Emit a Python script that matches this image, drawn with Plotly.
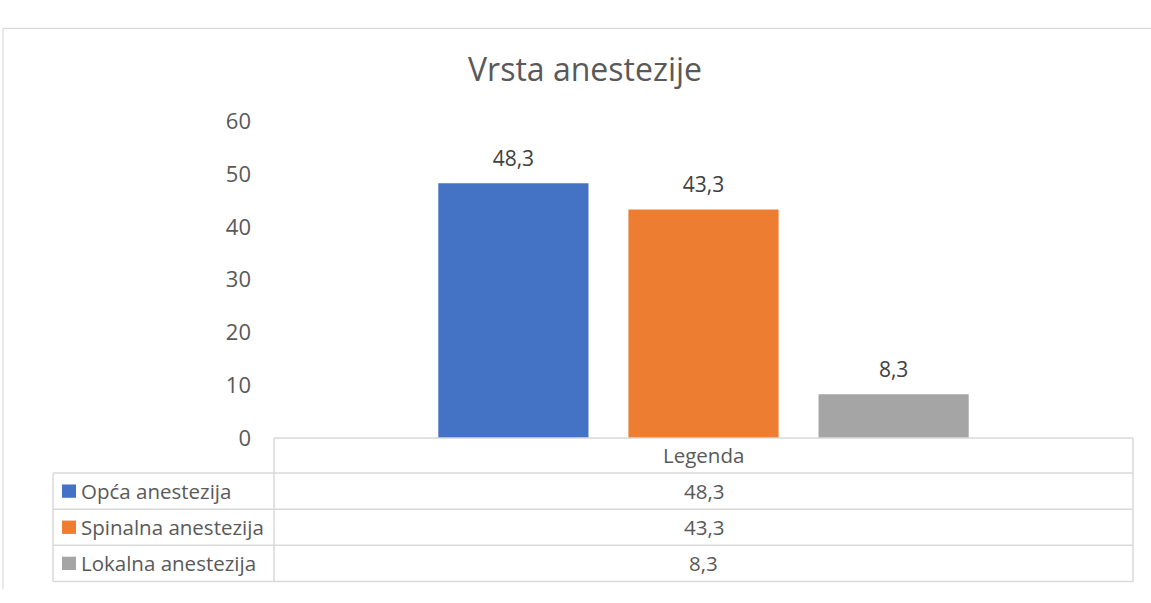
import plotly.graph_objects as go

title = "Vrsta anestezije"
category = ["Legenda"]
series_names = ["Opća anestezija", "Spinalna anestezija", "Lokalna anestezija"]
series_values = [48.3, 43.3, 8.3]
series_colors = ["#4472C4", "#ED7D31", "#A5A5A5"]
y_ticks = [0, 10, 20, 30, 40, 50, 60]

W, H = 1151, 603
def px(x): return x / W
def py(y): return 1 - y / H

BARGAP = 0.336
fig = go.Figure()
for name, val, col in zip(series_names, series_values, series_colors):
    fig.add_trace(go.Bar(
        x=category, y=[val], name=name, marker=dict(color=col, line=dict(width=0)),
        hoverinfo="name+y",
    ))
# data labels, grouped the same way as the bars
for name, val in zip(series_names, series_values):
    fig.add_trace(go.Scatter(
        x=category, y=[val], name=name, mode="markers+text",
        marker=dict(size=18, opacity=0), text=[f"{val:.1f}".replace(".", ",")],
        textposition="top center", cliponaxis=False, hoverinfo="skip",
        textfont=dict(family="Open Sans", size=21, color="#404040"),
    ))

grid = "#D9D9D9"
shapes = []
def line(x0, y0, x1, y1, w=1.5):
    shapes.append(dict(type="line", xref="paper", yref="paper",
                       x0=px(x0), y0=py(y0), x1=px(x1), y1=py(y1),
                       line=dict(color=grid, width=w)))

# outer chart border
line(3, 13, W, 13, 1.2)
line(3, 13, 3, H, 1.2)

# data table
L, M, R = 53, 274, 1133
rows = [444, 481, 519, 557, 595]
line(M, rows[0], R, rows[0])
for y in rows[1:]:
    line(L, y, R, y)
line(M, rows[0], M, rows[-1])
line(R, rows[0], R, rows[-1])
line(L, rows[1], L, rows[-1])

txt_font = dict(family="Open Sans", size=20.5, color="#595959")
annotations = []
annotations.append(dict(text=category[0], x=px((M + R) / 2), y=py((rows[0] + rows[1]) / 2),
                        xref="paper", yref="paper", showarrow=False,
                        xanchor="center", yanchor="middle", font=txt_font))
for i, (name, val, col) in enumerate(zip(series_names, series_values, series_colors)):
    yc = (rows[i + 1] + rows[i + 2]) / 2
    annotations.append(dict(text=f"{val:.1f}".replace(".", ","), x=px((M + R) / 2), y=py(yc),
                            xref="paper", yref="paper", showarrow=False,
                            xanchor="center", yanchor="middle", font=txt_font))
    annotations.append(dict(text=name, x=px(79), y=py(yc), xanchor="left", yanchor="middle",
                            xref="paper", yref="paper", showarrow=False, font=txt_font))
    shapes.append(dict(type="rect", xref="paper", yref="paper",
                       x0=px(62), x1=px(76), y0=py(yc + 7), y1=py(yc - 7),
                       fillcolor=col, line=dict(width=0)))

fig.update_layout(
    width=W, height=H, autosize=False,
    margin=dict(l=0, r=0, t=0, b=0, pad=0),
    paper_bgcolor="white", plot_bgcolor="white",
    separators=",.",
    title=dict(text=title, x=px(585), xanchor="center", xref="paper",
               y=py(57), yanchor="middle", yref="paper",
               font=dict(family="Open Sans", size=32, color="#595959")),
    barmode="group", bargap=BARGAP, bargroupgap=0.21,
    scattermode="group", scattergap=BARGAP,
    showlegend=False,
    xaxis=dict(domain=[px(M), px(R)], showticklabels=False, showgrid=False,
               zeroline=False, showline=False, fixedrange=True),
    yaxis=dict(domain=[py(444), py(111)], range=[0, 60], tickvals=y_ticks,
               showgrid=False, zeroline=False, showline=False,
               ticklabelstandoff=22, fixedrange=True,
               tickfont=dict(family="Open Sans", size=22, color="#595959")),
    shapes=shapes, annotations=annotations,
)

fig.write_html("out.html", config={"displayModeBar": False},
               post_script="document.body.style.margin='0';document.body.style.overflow='hidden';")
